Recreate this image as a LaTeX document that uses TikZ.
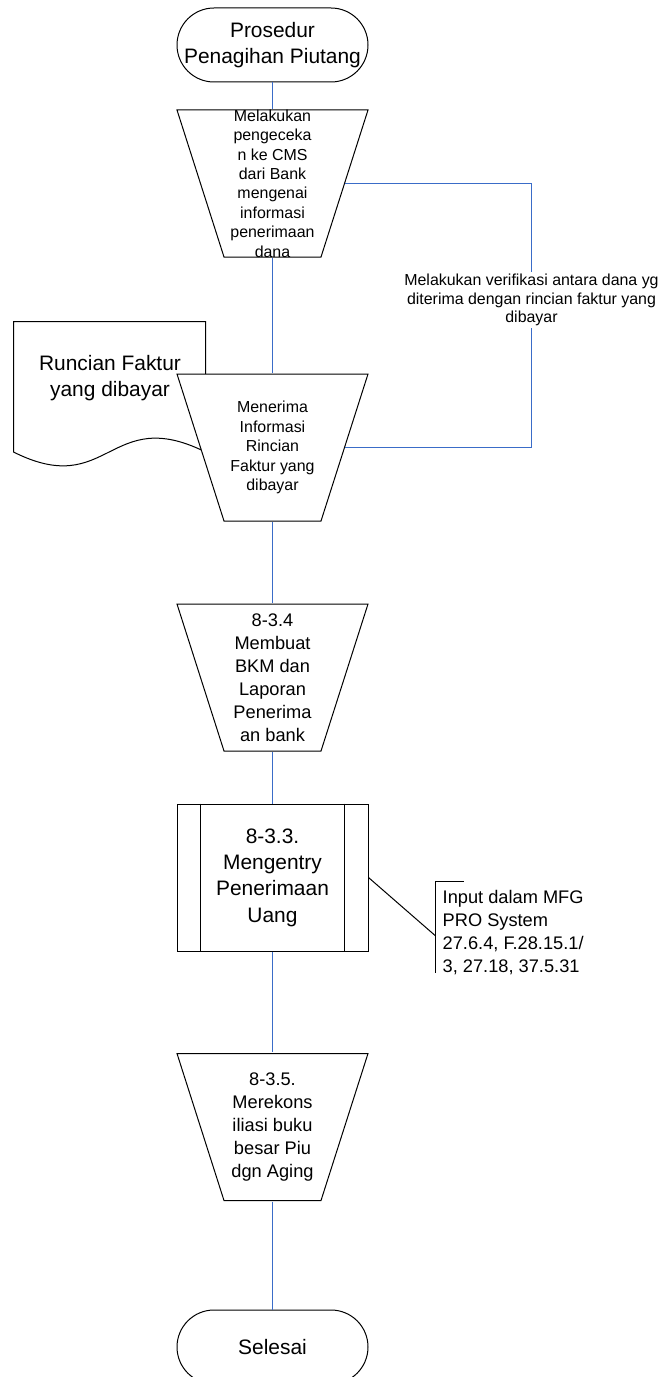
\documentclass[tikz,border=0pt]{standalone}
\usepackage{fontspec}
\setmainfont{Liberation Sans}
\usetikzlibrary{calc}
\definecolor{flowblue}{RGB}{58,108,200}

\begin{document}
\begin{tikzpicture}[x=1bp,y=-1bp,
  every node/.style={inner sep=0bp, align=center},
  outline/.style={draw=black, line width=1bp},
  flow/.style={draw=flowblue, line width=1bp},
  loopline/.style={draw=flowblue, line width=1.4bp},
  terminal/.style={outline, fill=white, rounded corners=37bp,
    minimum width=191bp, minimum height=74bp},
  trapbox/.style={minimum width=193bp, minimum height=149bp,
    path picture={
      \filldraw[fill=white, draw=black, line width=1bp]
        ([xshift=1bp,yshift=-1bp]path picture bounding box.north west) --
        ([xshift=-1bp,yshift=-1bp]path picture bounding box.north east) --
        ([xshift=-48bp,yshift=1bp]path picture bounding box.south east) --
        ([xshift=48bp,yshift=1bp]path picture bounding box.south west) -- cycle;
    }},
  subproc/.style={outline, fill=white, minimum width=191bp, minimum height=147bp},
  txtS/.style={font=\fontsize{16}{19.5}\selectfont},
  txtM/.style={font=\fontsize{18.3}{23}\selectfont},
  txtL/.style={font=\fontsize{21}{26.5}\selectfont},
  note/.style={font=\fontsize{16}{18.4}\selectfont}
]
\useasboundingbox (0,0) rectangle (662,1377);

% start terminator
\node[terminal, txtL] (start) at (272.5,45) {Prosedur\\Penagihan Piutang};

% first manual operation
\node[trapbox, txtS] (t1) at (272.5,183.5)
  {Melakukan\\pengeceka\\n ke CMS\\dari Bank\\mengenai\\informasi\\penerimaan\\dana};

% document
\draw[outline, fill=white] (13.5,321.5) -- (205.5,321.5) -- (205.5,452)
  .. controls (109,404) and (109,500) .. (13.5,452) -- cycle;
\node[txtL] (doc) at (110,378) {Runcian Faktur\\yang dibayar};

% second manual operation
\node[trapbox, txtS] (t2) at (272.5,447.5)
  {Menerima\\Informasi\\Rincian\\Faktur yang\\dibayar};

% third manual operation
\node[trapbox, txtM] (t3) at (272.5,677.5)
  {8-3.4\\Membuat\\BKM dan\\Laporan\\Penerima\\an bank};

% predefined process
\node[subproc, txtL] (sub) at (272.5,877.5)
  {8-3.3.\\Mengentry\\Penerimaan\\Uang};
\draw[outline] ([xshift=24bp]sub.north west) -- ([xshift=24bp]sub.south west);
\draw[outline] ([xshift=-24bp]sub.north east) -- ([xshift=-24bp]sub.south east);

% annotation
\node[txtM, anchor=north west, align=left, inner xsep=7bp, inner ysep=4bp] (ann) at (435.5,886.5)
  {Input dalam MFG\\PRO System\\27.6.4, F.28.15.1/\\3, 27.18, 37.5.31};
\draw[outline] ([xshift=28bp,yshift=5bp]ann.north west) -- ([yshift=5bp]ann.north west)
  -- ([yshift=6bp]ann.south west);
\draw[outline] (sub.east) -- ([yshift=-3bp]ann.west);

% fourth manual operation
\node[trapbox, txtM] (t4) at (272.5,1127)
  {8-3.5.\\Merekons\\iliasi buku\\besar Piu\\dgn Aging};

% end terminator
\node[terminal, txtL] (end) at (272.5,1347) {Selesai};

% main flow
\draw[flow] (start.south) -- (t1.north);
\draw[flow] (t1.south) -- (t2.north);
\draw[flow] (t2.south) -- (t3.north);
\draw[flow] (t3.south) -- (sub.north);
\draw[flow] (sub.south) -- (t4.north);
\draw[flow] (t4.south) -- (end.north);

% verification loop
\coordinate (loopTop) at (531.5,183.5);
\coordinate (loopBot) at (531.5,447.5);
\draw[loopline] ($(t1.center)+(72,0)$) -- (loopTop) -- (loopBot) -- ($(t2.center)+(72,0)$);
\node[note, fill=white, inner xsep=1bp, inner ysep=2bp] (verif) at (531.5,300)
  {Melakukan verifikasi antara dana yg\\diterima dengan rincian faktur yang\\dibayar};
\end{tikzpicture}
\end{document}
